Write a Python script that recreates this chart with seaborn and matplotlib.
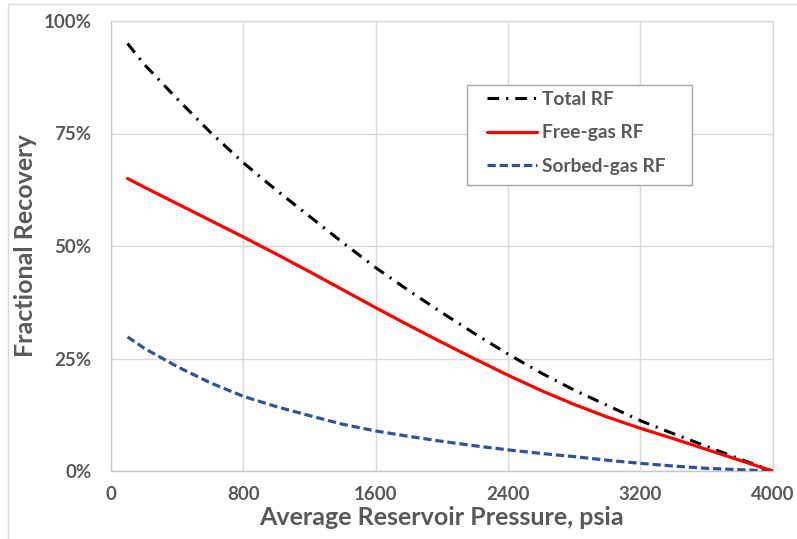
import matplotlib
matplotlib.use("Agg")
import matplotlib.pyplot as plt
from matplotlib.lines import Line2D
from matplotlib.patches import Rectangle
import seaborn as sns
import pandas as pd

pressure = [100, 200, 400, 600, 800, 1000, 1200, 1400, 1600, 1800, 2000,
            2200, 2400, 2600, 2800, 3000, 3200, 3400, 3600, 3800, 4000]
total_rf = [95.0, 90.4, 82.7, 75.3, 68.5, 62.4, 56.6, 50.8, 45.2, 40.1, 35.2,
            30.5, 26.0, 21.8, 18.0, 14.6, 11.2, 8.3, 5.5, 2.7, 0.0]
free_rf = [65.0, 63.1, 59.4, 55.7, 52.0, 48.2, 44.3, 40.3, 36.3, 32.4, 28.6,
           24.9, 21.3, 17.9, 14.8, 12.0, 9.5, 7.2, 4.8, 2.4, 0.0]
sorbed_rf = [29.8, 27.3, 23.2, 19.6, 16.6, 14.3, 12.3, 10.4, 8.9, 7.7, 6.6,
             5.6, 4.7, 3.9, 3.2, 2.4, 1.7, 1.1, 0.6, 0.3, 0.0]

series_names = ["Total RF", "Free-gas RF", "Sorbed-gas RF"]
x_ticks = [0, 800, 1600, 2400, 3200, 4000]
y_ticks = [0, 25, 50, 75, 100]
y_tick_labels = ["0%", "25%", "50%", "75%", "100%"]

sns.set_theme(style="white")
plt.rcParams["font.family"] = ["Lato", "DejaVu Sans"]

TXT = "#595959"
GRID = "#D9D9D9"

fig = plt.figure(figsize=(7.97, 5.39), dpi=100)
ax = fig.add_axes([111 / 797, 1 - 471 / 539, 661.5 / 797, 450 / 539])

df = pd.DataFrame({"p": pressure, "total": total_rf, "free": free_rf, "sorbed": sorbed_rf})

sns.lineplot(data=df, x="p", y="total", ax=ax, color="black", lw=2.2,
             linestyle=(0, (3.8, 2.3, 0.7, 2.3)), label=series_names[0], zorder=3)
sns.lineplot(data=df, x="p", y="free", ax=ax, color="#FF0000", lw=2.3,
             linestyle="-", label=series_names[1], zorder=4)
sns.lineplot(data=df, x="p", y="sorbed", ax=ax, color="#2F5597", lw=2.3,
             linestyle=(0, (2.6, 1.2)), label=series_names[2], zorder=3)

ax.set_xlim(0, 4000)
ax.set_ylim(0, 100)
ax.set_xticks(x_ticks)
ax.set_xticklabels([str(v) for v in x_ticks])
ax.set_yticks(y_ticks)
ax.set_yticklabels(y_tick_labels)
ax.grid(True, color=GRID, lw=1.0)
ax.set_axisbelow(True)
for s in ax.spines.values():
    s.set_visible(True)
    s.set_color(GRID)
    s.set_linewidth(1.0)
ax.spines["left"].set_color("#C8C8C8")
ax.spines["bottom"].set_color("#C8C8C8")

ax.tick_params(axis="both", length=0, labelsize=13.5, labelcolor=TXT)
ax.tick_params(axis="x", pad=11)
ax.tick_params(axis="y", pad=14)
for lab in ax.get_xticklabels() + ax.get_yticklabels():
    lab.set_fontweight("bold")

ax.set_xlabel("Average Reservoir Pressure, psia", fontsize=18, fontweight="bold", color=TXT, labelpad=2)
ax.set_ylabel("Fractional Recovery", fontsize=18, fontweight="bold", color=TXT, labelpad=5)

# legend box (frame drawn separately to match the reference proportions)
box = Rectangle(((467 - 111) / 661.5, (471 - 185) / 450), 225 / 661.5, 100 / 450,
                transform=ax.transAxes, facecolor="white", edgecolor="#A6A6A6",
                lw=1.0, zorder=6)
ax.add_patch(box)
leg = ax.legend(loc="upper left", bbox_to_anchor=((487 - 111) / 661.5, (471 - 91) / 450),
                borderaxespad=0, borderpad=0, frameon=False,
                prop={"weight": "bold", "size": 13.8}, handlelength=2.6,
                labelspacing=0.85, handletextpad=0.27)
leg.set_zorder(7)
for t in leg.get_texts():
    t.set_color(TXT)

# outer chart border (top and left visible)
fig.add_artist(Line2D([8 / 797, 8 / 797], [0, 1 - 4 / 539], transform=fig.transFigure, color=GRID, lw=1.0))
fig.add_artist(Line2D([8 / 797, 1], [1 - 4 / 539, 1 - 4 / 539], transform=fig.transFigure, color=GRID, lw=1.0))

fig.savefig("out.png", dpi=100)
